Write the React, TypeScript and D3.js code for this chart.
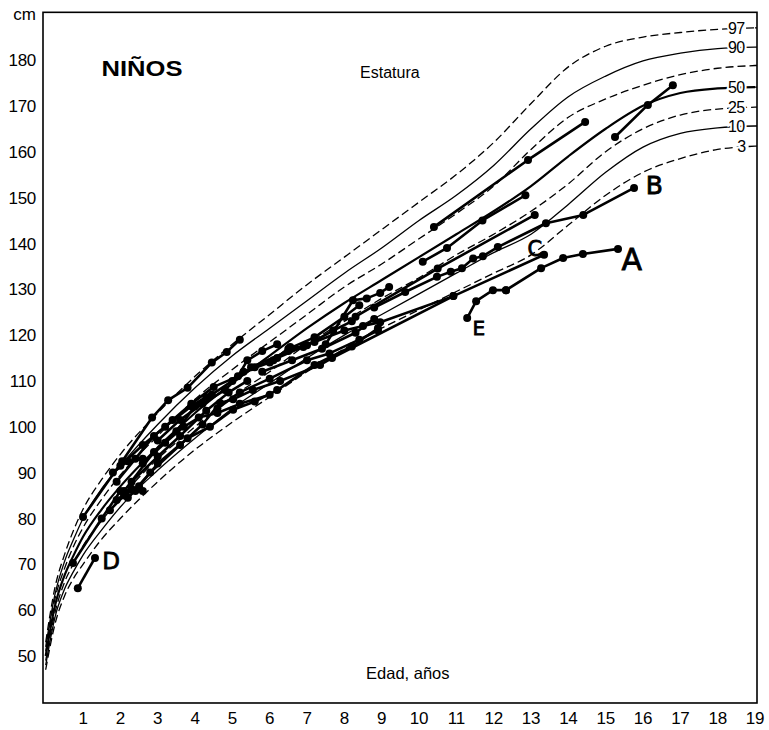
import React from "react";
import * as d3 from "d3";

// percentile curves (age in years, height in cm)
const ages = [0, 0.25, 0.5, 0.75, 1, 1.5, 2, 3, 4, 5, 6, 7, 8, 9, 10, 11, 12, 13, 14, 15, 16, 17, 18, 19];
const p97 = [53, 65, 72, 77.5, 82, 88.5, 94, 103, 111, 118, 124.5, 131, 137, 143, 149, 155, 162, 170.5, 178.5, 183, 185, 186, 186.7, 187];
const p90 = [52, 63.5, 70.5, 75.5, 80, 86.5, 91.5, 100.5, 108.5, 115.5, 121.5, 127.5, 133.5, 139, 145, 150.5, 157, 165, 172, 176.5, 179.8, 181.5, 182.5, 182.8];
const p75 = [51, 62.5, 69, 74, 78, 84.2, 89.5, 98, 106, 112.5, 118.5, 124.5, 130.5, 135.5, 141, 146.5, 152.5, 160.5, 167.5, 171.5, 174.5, 176.8, 178.2, 178.8];
const p50 = [50, 61, 67.5, 72, 76, 82, 87, 95.5, 103, 109.5, 115.5, 121.5, 127, 132, 137, 142, 147, 152.5, 159, 165, 170, 172.8, 173.8, 174.1];
const p25 = [49, 59.5, 66, 70.2, 74, 79.5, 84.5, 93, 100, 106.5, 112, 118, 123, 128, 132.5, 137.5, 142, 147, 153, 160, 165, 168, 169.3, 169.7];
const p10 = [48, 58.5, 64.5, 68.5, 72, 77.5, 82.5, 90.5, 97.5, 104, 109.5, 115, 120, 124.5, 129, 133.5, 138, 142, 148.5, 155.5, 161, 164, 165.2, 165.6];
const p3 = [47, 57, 63, 67, 70, 75.5, 80, 88, 95, 101, 106.5, 112, 117, 121.5, 125.5, 129.5, 133.5, 137.5, 144, 150.5, 155.5, 158.5, 160.5, 161.2];

const curves = [
  { key: "97", values: p97, dashed: true, label: "97" },
  { key: "90", values: p90, dashed: false, label: "90" },
  { key: "75", values: p75, dashed: true, label: "" },
  { key: "50", values: p50, dashed: false, label: "50", thick: true },
  { key: "25", values: p25, dashed: true, label: "25" },
  { key: "10", values: p10, dashed: false, label: "10" },
  { key: "3", values: p3, dashed: true, label: "3" },
];

// individual children: [age, height]
const patients: [number, number][][] = [
  [[1.0, 80.3], [2.05, 92.5], [2.85, 102], [3.28, 105.8], [3.8, 108.5], [4.45, 114], [4.85, 116.3], [5.2, 119]],
  [[1.9, 88], [2.4, 93], [2.9, 98], [3.4, 101.5], [3.9, 105], [4.5, 108.7], [5.15, 111], [5.4, 114.5], [5.8, 116.5], [6.2, 118]],
  [[2.1, 86], [2.9, 94.5], [3.5, 99], [4.0, 104.5], [4.45, 107], [5.0, 110], [5.6, 113], [6.1, 114.5], [6.55, 117.4], [6.9, 117.4]],
  [[2.2, 84.5], [2.8, 90], [3.6, 96], [4.2, 100.5], [4.67, 105.2], [5.02, 106], [5.55, 108], [6.28, 110], [7.35, 113.5], [7.67, 115], [10.92, 128.5], [13.35, 137.5]],
  [[2.4, 86], [3.0, 92], [3.8, 97.5], [4.4, 100], [5.02, 103.7], [5.6, 105.5], [6.2, 108], [7.2, 113.5], [8.2, 117.5], [8.9, 121.5]],
  [[7.5, 118], [8.23, 127.6], [8.6, 128], [8.96, 129.2], [9.2, 130.5]],
  [[5.5, 113], [6.5, 116.5], [7.2, 118.5], [8.0, 121], [8.5, 122], [8.96, 122.8], [10.92, 128.5]],
  [[11.29, 123.7], [11.53, 127.4], [11.98, 129.8], [12.33, 129.8]],
  [[12.33, 129.8], [13.27, 134.6], [13.86, 136.8], [14.39, 137.7], [15.33, 138.8]],
  [[8.8, 126], [9.63, 129.4], [10.48, 132.7], [10.85, 133.8], [11.15, 134.6], [11.45, 136.7], [11.71, 137.2], [12.11, 139.2], [13.4, 144.4], [14.4, 146.2], [15.76, 152.1]],
  [[10.1, 136], [10.75, 139], [11.7, 145], [12.85, 150.5]],
  [[8.3, 124], [10.5, 134.5], [13.1, 146.2]],
  [[10.4, 143.6], [12.92, 158.2], [14.45, 166.5]],
  [[15.25, 163.2], [16.13, 170.2], [16.8, 174.5]],
  [[0.86, 64.8], [1.32, 71.4]],
  [[0.73, 70.3], [1.5, 80], [2.0, 86]],
  [[1.72, 81.8], [2.1, 85], [2.5, 87]],
  [[2.0, 91.5], [2.6, 96], [3.2, 100], [3.9, 104.5], [4.3, 106.5]],
  [[2.3, 88], [3.0, 93.5], [3.6, 98], [4.3, 103.5], [4.9, 107.5], [5.4, 110]],
  [[3.0, 97], [3.6, 101.5], [4.2, 105], [4.8, 108], [5.3, 112], [6.0, 114], [6.5, 117], [7.2, 119.5], [8.0, 124], [8.4, 126.5]],
  [[4.6, 104], [5.2, 107.5], [6.0, 110.5], [7.0, 114.5], [7.6, 116], [8.4, 119], [8.9, 121]],
  [[2.6, 92], [3.2, 96.5], [3.7, 100], [4.1, 102], [4.6, 103], [5.2, 105], [6.0, 107]],
  [[5.8, 112], [6.6, 114.5], [7.4, 117], [8.3, 120.5], [8.8, 123.5]],
  [[6.2, 115], [7.0, 117.8], [7.7, 121], [8.2, 123]],
  [[1.8, 90], [2.2, 92.5], [2.6, 93]],
  [[1.9, 84], [2.3, 86.5], [2.6, 86]],
];

const letters: { t: string; age: number; h: number; size: number }[] = [
  { t: "A", age: 15.7, h: 136.5, size: 30 },
  { t: "B", age: 16.3, h: 152.8, size: 25 },
  { t: "C", age: 13.1, h: 139, size: 21 },
  { t: "D", age: 1.75, h: 70.8, size: 23 },
  { t: "E", age: 11.6, h: 121.5, size: 20 },
];

const xTicks = d3.range(1, 20);
const yTicks = d3.range(50, 190, 10);

const W = 769;
const H = 730;
const font = "'Liberation Sans', Arial, Helvetica, sans-serif";

export default function App() {
  const x = d3.scaleLinear().domain([0, 19]).range([45.7, 755]);
  const y = d3.scaleLinear().domain([50, 180]).range([656, 60]);

  const frameL = 43;
  const frameR = 757;
  const frameT = y(190.4);
  const frameB = y(39.75);

  const curveLine = d3
    .line<[number, number]>()
    .x((d) => x(d[0]))
    .y((d) => y(d[1]))
    .curve(d3.curveMonotoneX);

  const patLine = d3
    .line<[number, number]>()
    .x((d) => x(d[0]))
    .y((d) => y(d[1]));

  return (
    <svg width={W} height={H} style={{ position: "absolute", left: 0, top: 0, background: "#fff" }}>
      <rect x={0} y={0} width={W} height={H} fill="#fff" />
      {/* percentile curves */}
      <g fill="none" stroke="#000">
        {curves.map((c) => {
          const pts = ages.map((a, i) => [a, c.values[i]] as [number, number]);
          const end = c.values[c.values.length - 1];
          return (
            <g key={c.key}>
              <path
                d={curveLine(pts) || ""}
                strokeWidth={c.thick ? 2.2 : 1.3}
                strokeDasharray={c.dashed ? "8 4" : undefined}
              />
              <line x1={x(19)} x2={frameR} y1={y(end)} y2={y(end)} strokeWidth={1.3} />
            </g>
          );
        })}
      </g>
      {/* patient trajectories */}
      <g>
        {patients.map((p, i) => (
          <g key={i}>
            <path d={patLine(p) || ""} fill="none" stroke="#000" strokeWidth={2.6} strokeLinejoin="round" />
            {p.map((d, j) => (
              <circle key={j} cx={x(d[0])} cy={y(d[1])} r={4} fill="#000" />
            ))}
          </g>
        ))}
      </g>
      {/* percentile labels */}
      <g fontFamily={font} fontSize={16} textAnchor="middle">
        {curves
          .filter((c) => c.label)
          .map((c) => (
            <text
              key={c.key}
              x={x(18.5) + (c.label.length === 1 ? 5 : 0)}
              y={y(c.values[c.values.length - 1])}
              dy="0.36em"
              stroke="#fff"
              strokeWidth={4}
              paintOrder="stroke"
              fill="#000"
              letterSpacing={-0.5}
            >
              {c.label}
            </text>
          ))}
      </g>
      {/* handwritten letters */}
      <g fontFamily="'DejaVu Sans', sans-serif" fill="#000">
        {letters.map((l) => (
          <text key={l.t} x={x(l.age)} y={y(l.h)} fontSize={l.size} textAnchor="middle" dy="0.36em" stroke="#000" strokeWidth={0.8}>
            {l.t}
          </text>
        ))}
      </g>
      {/* frame */}
      <rect x={frameL} y={frameT} width={frameR - frameL} height={frameB - frameT} fill="none" stroke="#000" strokeWidth={1.6} />
      {/* axes labels */}
      <g fontFamily={font} fontSize={17} fill="#000">
        {yTicks.map((t) => (
          <text key={t} x={36} y={y(t)} dy="0.36em" textAnchor="end" letterSpacing={-0.3}>
            {t}
          </text>
        ))}
        <text x={36} y={y(190)} dy="0.36em" textAnchor="end">
          cm
        </text>
        {xTicks.map((t) => (
          <text key={t} x={x(t)} y={frameB + 21} textAnchor="middle" letterSpacing={-0.3}>
            {t}
          </text>
        ))}
        <text x={x(9.7)} y={y(46.3)} dy="0.36em" textAnchor="middle" fontSize={16.5}>
          Edad, años
        </text>
        <text x={x(9.22)} y={y(177.3)} dy="0.36em" textAnchor="middle" fontSize={16}>
          Estatura
        </text>
        <text
          x={x(2.58)}
          y={y(178.3)}
          dy="0.36em"
          textAnchor="middle"
          fontSize={22}
          fontWeight="bold"
          textLength={81}
          lengthAdjust="spacingAndGlyphs"
        >
          NIÑOS
        </text>
      </g>
    </svg>
  );
}
